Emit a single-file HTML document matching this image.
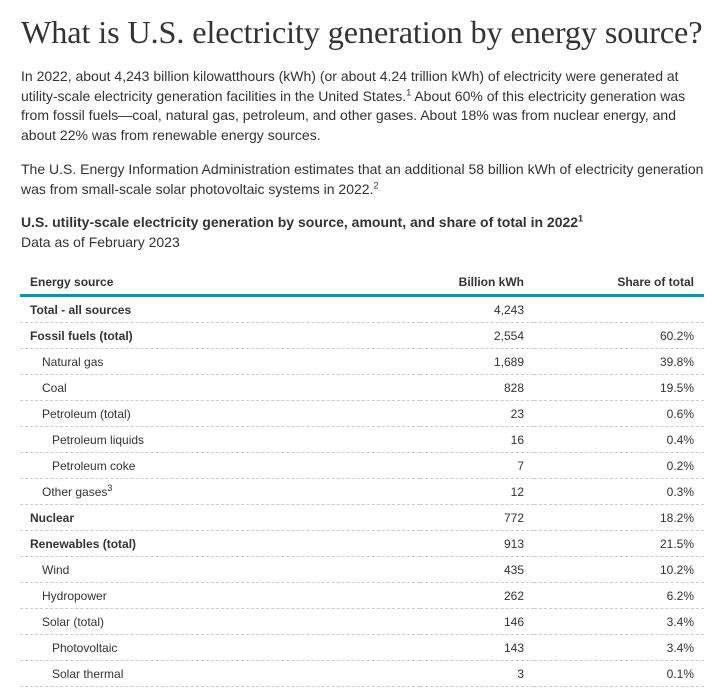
<!DOCTYPE html>
<html><head><meta charset="utf-8"><style>
body{margin:0;width:718px;height:689px;overflow:hidden;background:#fff;color:#333;font-family:"Liberation Sans",Arial,sans-serif;}
h1{position:absolute;left:21px;top:14px;margin:0;font-family:"Liberation Serif",serif;font-weight:normal;font-size:32.2px;color:#333;white-space:nowrap;letter-spacing:-0.1px}
.p{position:absolute;left:21px;margin:0;font-size:14px;line-height:19.7px;width:690px}
sup{font-size:9px;line-height:0}
.tt{position:absolute;left:21px;top:214px;font-size:14px;font-weight:bold;margin:0}
.st{position:absolute;left:21px;top:234px;font-size:14px;margin:0}
table{position:absolute;left:20px;top:270px;width:684px;border-collapse:collapse;font-size:12px}
th{font-weight:bold;height:24px;padding:0 10px;border-bottom:3px solid #1a8bb3;text-align:right;vertical-align:middle}
th:first-child{text-align:left}
td{height:25px;padding:0 10px;border-bottom:1px dashed #ccc;text-align:right}
td:first-child{text-align:left}
tr.b td:first-child{font-weight:bold}
.i1{padding-left:22px!important}.i2{padding-left:32px!important}
</style></head><body>
<h1>What is U.S. electricity generation by energy source?</h1>
<p class="p" style="top:67px">In 2022, about 4,243 billion kilowatthours (kWh) (or about 4.24 trillion kWh) of electricity were generated at utility-scale electricity generation facilities in the United States.<sup>1</sup> About 60% of this electricity generation was from fossil fuels—coal, natural gas, petroleum, and other gases. About 18% was from nuclear energy, and about 22% was from renewable energy sources.</p>
<p class="p" style="top:160px">The U.S. Energy Information Administration estimates that an additional 58 billion kWh of electricity generation was from small-scale solar photovoltaic systems in 2022.<sup>2</sup></p>
<p class="tt">U.S. utility-scale electricity generation by source, amount, and share of total in 2022<sup>1</sup></p>
<p class="st">Data as of February 2023</p>
<table>
<thead><tr><th style="width:380px">Energy source</th><th>Billion kWh</th><th style="width:150px">Share of total</th></tr></thead>
<tbody id="tb"></tbody></table>
<script>
const sources=["Total - all sources","Fossil fuels (total)","Natural gas","Coal","Petroleum (total)","Petroleum liquids","Petroleum coke","Other gases<sup>3</sup>","Nuclear","Renewables (total)","Wind","Hydropower","Solar (total)","Photovoltaic","Solar thermal"];
const levels=[0,0,1,1,1,2,2,1,0,0,1,1,1,2,2];
const kwh=["4,243","2,554","1,689","828","23","16","7","12","772","913","435","262","146","143","3"];
const shares=["","60.2%","39.8%","19.5%","0.6%","0.4%","0.2%","0.3%","18.2%","21.5%","10.2%","6.2%","3.4%","3.4%","0.1%"];
const tb=document.getElementById('tb');
sources.forEach((s,i)=>{
 const tr=document.createElement('tr');
 
 
 if(levels[i]===0)tr.className='b';
 tr.innerHTML='<td class="'+(levels[i]==1?'i1':levels[i]==2?'i2':'')+'">'+s+'</td><td>'+kwh[i]+'</td><td>'+shares[i]+'</td>';
 tb.appendChild(tr);
});
</script>
</body></html>
